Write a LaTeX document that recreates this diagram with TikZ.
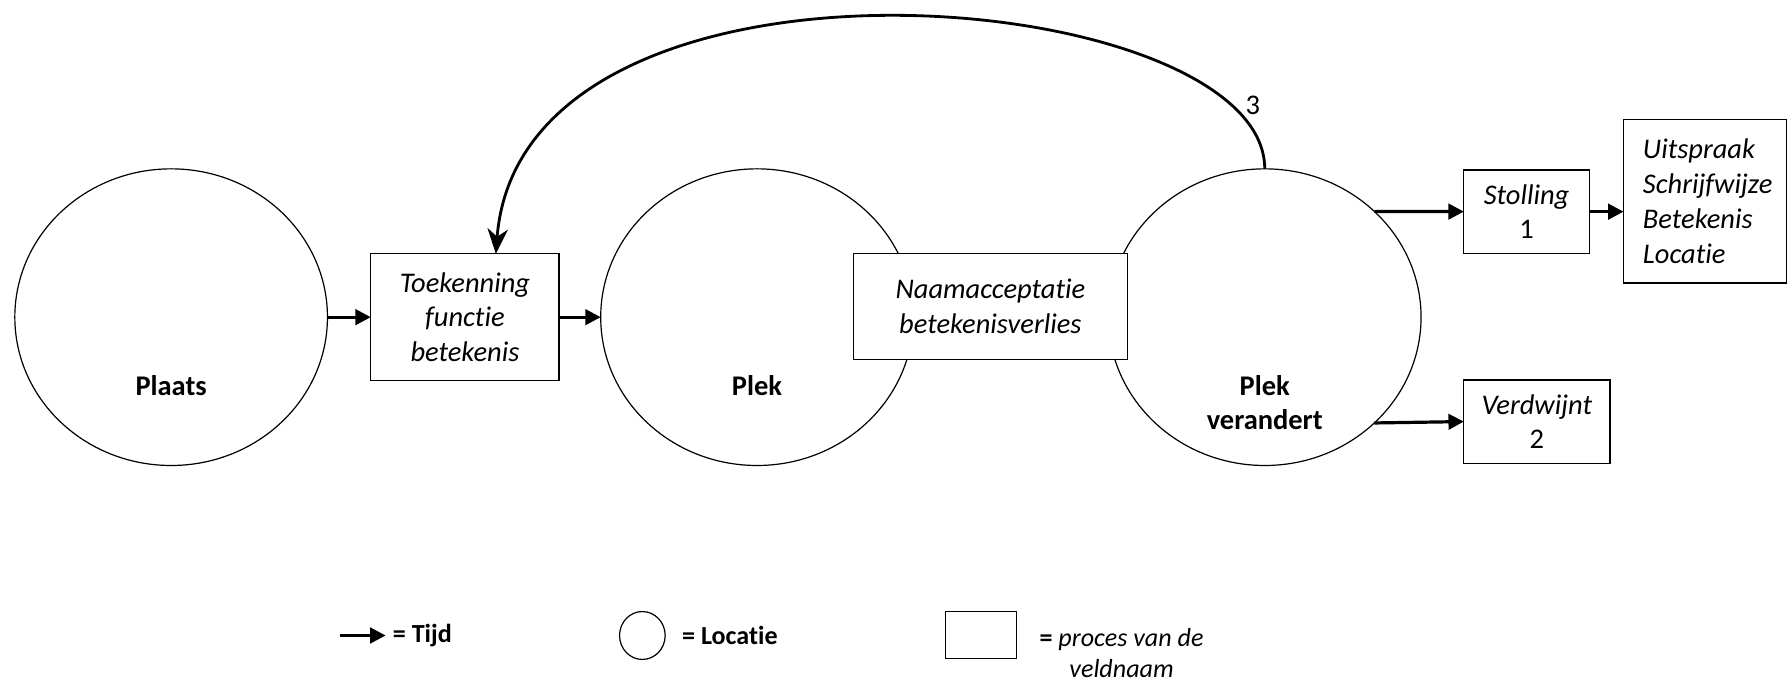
\documentclass[tikz,border=0pt]{standalone}
\usepackage{fontspec}
\setmainfont{Carlito}[Ligatures=NoCommon]
\usetikzlibrary{shapes.geometric,arrows.meta,calc}

\begin{document}
\begin{tikzpicture}[line width=0.6pt, every node/.style={font=\fontsize{14.2}{17.6}\selectfont},
    loc/.style={draw, ellipse, minimum width=5.48cm, minimum height=5.2cm, inner sep=0pt, outer sep=0pt},
    locname/.style={font=\fontsize{14.2}{17}\selectfont\bfseries, align=center},
    proc/.style={draw, fill=white, outer sep=0pt, align=center, font=\fontsize{14.2}{17.4}\selectfont\itshape},
    legtext/.style={anchor=west, font=\fontsize{13}{15.3}\selectfont\bfseries},
    tijd/.style={-{Triangle[length=0.27cm,width=0.27cm]}, line width=1.6pt},
    terug/.style={-{Stealth[length=0.44cm,width=0.36cm,inset=0.14cm]}, line width=1.4pt}]
  \useasboundingbox (0,0) rectangle (31.36,11.96);

  % locaties
  \node[loc] (plaats) at (3.0,6.4) {};
  \node[locname] (plaats-t) at (3.0,5.2) {Plaats};
  \node[loc] (plek) at (13.27,6.4) {};
  \node[locname] (plek-t) at (13.27,5.2) {Plek};
  \node[loc] (pv) at (22.17,6.4) {};
  \node[locname] (pv-t) at (22.17,4.9) {Plek\\verandert};

  % processen
  \node[proc, minimum width=3.3cm, minimum height=2.22cm] (toek) at (8.15,6.4) {Toekenning\\functie\\betekenis};
  \node[proc, minimum width=4.8cm, minimum height=1.86cm] (naam) at (17.36,6.59) {Naamacceptatie\\betekenisverlies};
  \node[proc, minimum width=2.2cm, minimum height=1.46cm] (stol) at (26.76,8.25) {Stolling\\{\upshape 1}};
  \node[proc, minimum width=2.56cm, minimum height=1.46cm] (verd) at (26.94,4.57) {Verdwijnt\\{\upshape 2}};
  \node[proc, text width=2.18cm, align=left, inner xsep=0.34cm, minimum height=2.86cm] (uit) at (29.89,8.43)
    {Uitspraak\\Schrijfwijze\\Betekenis\\Locatie};

  \draw[tijd] (plaats.east) -- (toek.west);
  \draw[tijd] (toek.east) -- (plek.west);
  \draw[tijd] (pv.44) -- (stol.west);
  \draw[tijd] (pv.-44) -- (verd.west);
  \draw[tijd] (stol.east) -- (stol.east -| uit.west);
  \draw[terug] (pv.north) .. controls +(0,3.22) and +(0.45,5.85) .. (toek.64);
  \node (drie) at (21.96,10.12) {3};

  % legenda
  \coordinate (leg-a) at (5.96,0.82);
  \node[legtext] (leg-tijd) at (6.76,0.82) {= Tijd};
  \draw[tijd] (leg-a) -- (leg-tijd.west);
  \node[loc, minimum width=0.8cm, minimum height=0.84cm] (leg-loc) at (11.26,0.82) {};
  \node[legtext] (leg-loc-t) at (11.83,0.82) {= Locatie};
  \node[draw, minimum width=1.24cm, minimum height=0.82cm] (leg-proc) at (17.2,0.83) {};
  \node[align=center, font=\fontsize{13}{15.3}\selectfont] (leg-proc-t) at (19.66,0.51)
    {{\bfseries =} \itshape proces van de\\\itshape veldnaam};
\end{tikzpicture}
\end{document}
